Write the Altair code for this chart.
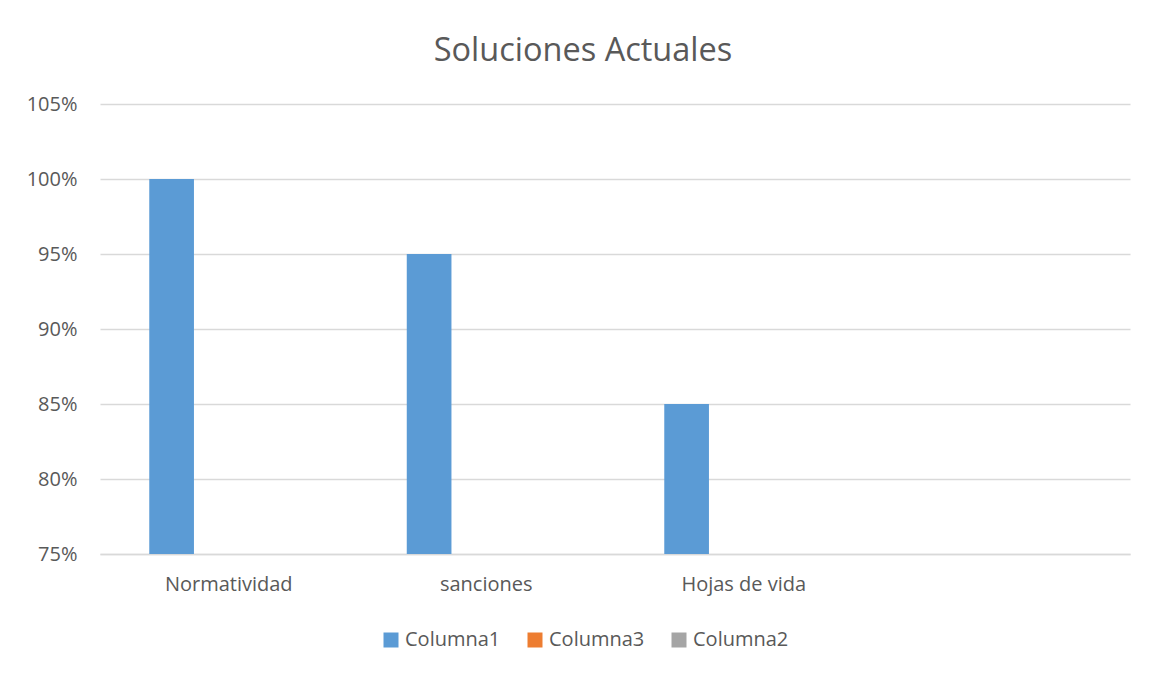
import altair as alt
import pandas as pd

categories = ["Normatividad", "sanciones", "Hojas de vida", ""]
series_names = ["Columna1", "Columna3", "Columna2"]
series_colors = ["#5B9BD5", "#ED7D31", "#A5A5A5"]
columna1 = [1.00, 0.95, 0.85]

df = pd.DataFrame({
    "categoria": categories[:3],
    "serie": ["Columna1"] * 3,
    "valor": columna1,
})

FONT = "Open Sans"
GRAY = "#595959"

bars = alt.Chart(df).mark_bar().encode(
    x=alt.X("categoria:N", sort=categories,
            scale=alt.Scale(domain=categories, paddingInner=0, paddingOuter=0),
            axis=alt.Axis(title=None, labelAngle=0, ticks=False, domain=True,
                          domainColor="#D9D9D9", domainWidth=1.3,
                          labelPadding=20, labelFontSize=20, labelColor=GRAY,
                          labelFont=FONT)),
    xOffset=alt.XOffset("serie:N",
                        scale=alt.Scale(domain=series_names, paddingInner=0.16,
                                        paddingOuter=1, align=0.463)),
    y=alt.Y("valor:Q",
            scale=alt.Scale(domain=[0.75, 1.05], zero=False, nice=False),
            axis=alt.Axis(title=None, format=".0%", values=[0.75, 0.80, 0.85, 0.90, 0.95, 1.00, 1.05],
                          grid=True, gridColor="#D9D9D9", gridWidth=1.3,
                          domain=False, ticks=False, labelPadding=23,
                          labelFontSize=20, labelColor=GRAY, labelFont=FONT)),
    y2=alt.datum(0.75),
    color=alt.Color("serie:N",
                    scale=alt.Scale(domain=series_names, range=series_colors),
                    legend=alt.Legend(title=None, orient="none", direction="horizontal",
                                      columns=3, legendX=281, legendY=526,
                                      symbolType="square", symbolSize=225,
                                      symbolStrokeWidth=0, labelFontSize=20,
                                      labelColor=GRAY, labelFont=FONT,
                                      columnPadding=24, labelOffset=4)),
)

chart = bars.properties(
    width=1030,
    height=450,
    background="white",
    autosize=alt.AutoSizeParams(type="none"),
    padding={"left": 92, "top": 96, "right": 13, "bottom": 100},
    title=alt.TitleParams("Soluciones Actuales", anchor="middle", frame="group",
                          dx=-32, offset=27, fontSize=32.5, fontWeight="normal",
                          font=FONT, color=GRAY),
).configure_view(strokeWidth=0)

chart.save("out.html", embed_options={"renderer": "svg", "actions": False})
